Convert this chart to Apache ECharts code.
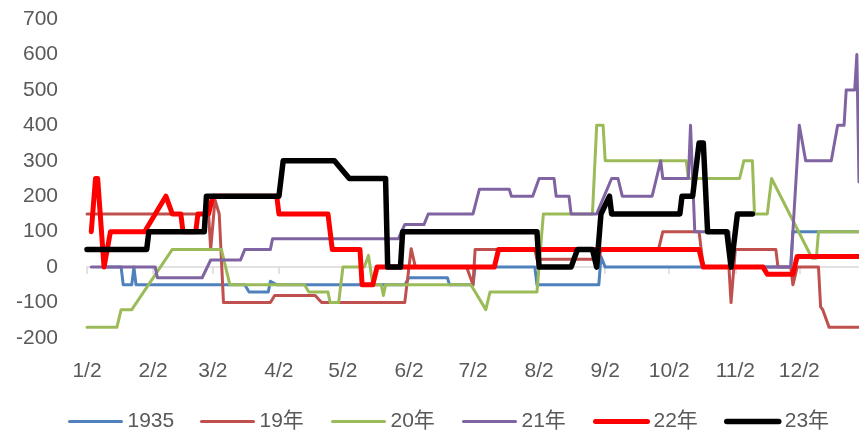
<!DOCTYPE html>
<html>
<head>
<meta charset="utf-8">
<script src="https://cdn.jsdelivr.net/npm/echarts@6/dist/echarts.min.js"></script>
<style>
html,body{margin:0;padding:0;background:#fff;}
#c{width:859px;height:433px;}
</style>
</head>
<body>
<div id="c"></div>
<script>
// x values are day offsets from 1/2 (1/2 = 0)
const tickDays = [0, 31, 59, 90, 120, 151, 181, 212, 243, 273, 304, 334];
const tickLabels = ['1/2','2/2','3/2','4/2','5/2','6/2','7/2','8/2','9/2','10/2','11/2','12/2'];

const seriesNames = ['1935', '19年', '20年', '21年', '22年', '23年'];

const s1935 = [[0,50],[8,50],[8,0],[16,0],[17,-50],[21,-50],[22,0],[23,-50],[74,-50],[76,-70],[85,-70],[86,-40],[89,-50],[149,-50],[151,-30],[169,-30],[170,-50],[181,-50],[182,0],[210,0],[211,-50],[240,-50],[241,30],[243,0],[330,0],[331,100],[362,100]];

const s19 = [[0,150],[57,150],[58,50],[60,190],[62,150],[64,-100],[86,-100],[88,-80],[107,-80],[110,-100],[149,-100],[152,52],[154,0],[178,0],[181,-50],[182,50],[210,50],[211,22],[240,22],[241,50],[268,50],[270,100],[287,100],[289,0],[301,0],[302,-100],[304,50],[323,50],[324,0],[330,0],[331,-50],[333,0],[343,0],[344,-112],[345,-120],[348,-170],[362,-170]];

const s20 = [[0,-170],[14,-170],[16,-120],[21,-120],[40,50],[63,50],[67,-50],[102,-50],[104,-70],[113,-70],[114,-100],[118,-100],[120,0],[130,0],[132,33],[134,-50],[138,-50],[139,-80],[140,-50],[180,-50],[187,-120],[189,-70],[211,-70],[214,150],[237,150],[239,400],[242,400],[243,300],[281,300],[282,250],[306,250],[308,300],[312,300],[313,150],[319,150],[321,250],[340,25],[342,25],[343,100],[362,100]];

const s21 = [[2,0],[32,0],[33,-30],[54,-30],[58,20],[72,20],[74,50],[86,50],[87,80],[146,80],[149,120],[158,120],[160,150],[181,150],[184,220],[198,220],[199,200],[209,200],[212,250],[219,250],[220,200],[226,200],[227,150],[239,150],[246,250],[249,250],[251,200],[265,200],[267,250],[269,300],[270,250],[282,250],[283,400],[285,100],[301,100],[302,0],[330,0],[334,400],[337,300],[349,300],[352,400],[355,400],[356,500],[360,500],[361,600],[362,240]];

const s22 = [[2,100],[4,250],[5,250],[8,0],[11,100],[27,100],[37,200],[40,150],[44,150],[45,100],[51,100],[52,150],[57,150],[59,200],[89,200],[90,150],[113,150],[115,50],[128,50],[129,-50],[134,-50],[136,0],[191,0],[193,50],[287,50],[289,0],[317,0],[319,-20],[331,-20],[333,30],[362,30]];

const s23 = [[0,50],[28,50],[29,100],[55,100],[56,200],[90,200],[92,300],[116,300],[123,250],[140,250],[141,0],[147,0],[148,100],[211,100],[212,0],[227,0],[230,50],[237,50],[239,0],[241,150],[245,200],[246,150],[278,150],[279,200],[284,200],[287,350],[289,350],[291,100],[300,100],[302,0],[305,150],[312,150]];

const seriesData = [s1935, s19, s20, s21, s22, s23];
const colors = ['#4F81BD', '#C0504D', '#9BBB59', '#8064A2', '#FF0000', '#000000'];
const widths = [3, 3, 3, 3, 5, 5.5];
const legendLefts = [68, 200, 331, 462, 593, 724];

const FONT = "'Liberation Sans', 'Noto Sans CJK SC', sans-serif";

const chart = echarts.init(document.getElementById('c'), null, {renderer: 'canvas'});
chart.setOption({
  animation: false,
  backgroundColor: '#fff',
  grid: {left: 87, right: 0, top: 19, bottom: 95},
  legend: seriesNames.map((n, i) => ({
    left: legendLefts[i], top: 411, padding: 0,
    itemWidth: 52, itemHeight: 22,
    itemStyle: {opacity: 0},
    lineStyle: {width: 'inherit', cap: 'round'},
    textStyle: {fontFamily: FONT, fontSize: 21, color: '#595959', padding: [0, 0, 0, 1]},
    data: [n]
  })),
  xAxis: {
    type: 'value', min: 0, max: 362,
    axisLine: {show: true, lineStyle: {color: '#D9D9D9', width: 1.5}},
    axisTick: {show: true, length: 7, customValues: tickDays, lineStyle: {color: '#D9D9D9', width: 1.5}},
    axisLabel: {
      customValues: tickDays, margin: 23,
      fontFamily: FONT, fontSize: 21, color: '#595959',
      formatter: v => tickLabels[tickDays.indexOf(v)] || ''
    },
    splitLine: {show: false}
  },
  yAxis: {
    type: 'value', min: -200, max: 700, interval: 100,
    axisLine: {show: false}, axisTick: {show: false},
    axisLabel: {margin: 29, fontFamily: FONT, fontSize: 21, color: '#595959'},
    splitLine: {show: false}
  },
  series: seriesNames.map((n, i) => ({
    name: n, type: 'line', data: seriesData[i],
    symbol: 'none', showSymbol: false,
    color: colors[i],
    lineStyle: {color: colors[i], width: widths[i], join: 'round', cap: 'round'},
    clip: true
  }))
});
</script>
</body>
</html>
